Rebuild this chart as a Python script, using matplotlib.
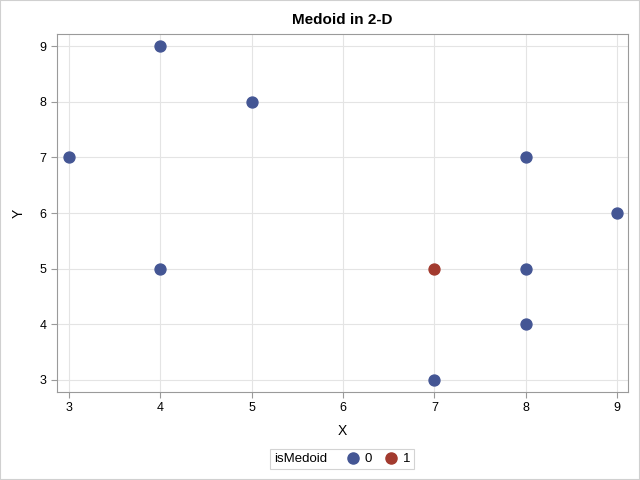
import matplotlib
matplotlib.use('Agg')
import matplotlib.pyplot as plt
from matplotlib.lines import Line2D
from matplotlib.patches import Rectangle
from matplotlib.offsetbox import HPacker

plt.rcParams['font.family'] = ['Liberation Sans', 'DejaVu Sans']

x_vals = [3, 4, 4, 5, 7, 7, 8, 8, 8, 9]
y_vals = [7, 9, 5, 8, 3, 5, 7, 5, 4, 6]
is_medoid = [0, 0, 0, 0, 0, 1, 0, 0, 0, 0]
group_colors = {0: '#445694', 1: '#A23A2E'}

fig = plt.figure(figsize=(6.4, 4.8), dpi=100)
fig.patches.append(Rectangle((0, 0), 1, 1, transform=fig.transFigure,
                             fill=False, edgecolor='#d0d0d0', linewidth=1.5))
ax = fig.add_axes([57 / 640, 1 - 392 / 480, (628 - 57) / 640, (392 - 34) / 480])

for g in (0, 1):
    xs = [x for x, m in zip(x_vals, is_medoid) if m == g]
    ys = [y for y, m in zip(y_vals, is_medoid) if m == g]
    ax.scatter(xs, ys, s=62, color=group_colors[g], zorder=3, label=str(g))

ax.set_xlim(2.869, 9.12)
ax.set_ylim(2.784, 9.216)
ax.set_xticks(range(3, 10))
ax.set_yticks(range(3, 10))
ax.grid(True, color='#e4e4e4', linewidth=0.8)
ax.set_axisbelow(True)
for sp in ax.spines.values():
    sp.set_color('#9a9a9a')
ax.tick_params(colors='#9a9a9a', labelcolor='black', labelsize=9, length=4)
ax.set_xlabel('X', fontsize=10, labelpad=7)
ax.set_ylabel('Y', fontsize=10, labelpad=10)
ax.set_title('Medoid in 2-D', fontsize=11, fontweight='bold', pad=7)

handles = [Line2D([], [], marker='o', linestyle='', markersize=8,
                  color=group_colors[g]) for g in (0, 1)]
leg = fig.legend(handles, ['0', '1'], ncol=2, title='isMedoid', loc='center',
                 bbox_to_anchor=(342 / 640, 1 - 459 / 480), fontsize=9.5,
                 title_fontsize=9.5, frameon=True, fancybox=False,
                 edgecolor='#c8c8c8', borderpad=0.3, handlelength=1.0,
                 handletextpad=0.4, columnspacing=0.9)
leg.get_frame().set_linewidth(0.8)
title_box, handle_box = leg._legend_box.get_children()
leg._legend_box = HPacker(pad=0.3 * 9.5, sep=14, align='center',
                          children=[title_box, handle_box])
leg._legend_box.set_figure(fig)
leg._set_loc(leg._loc)

fig.savefig('out.png', dpi=100)
